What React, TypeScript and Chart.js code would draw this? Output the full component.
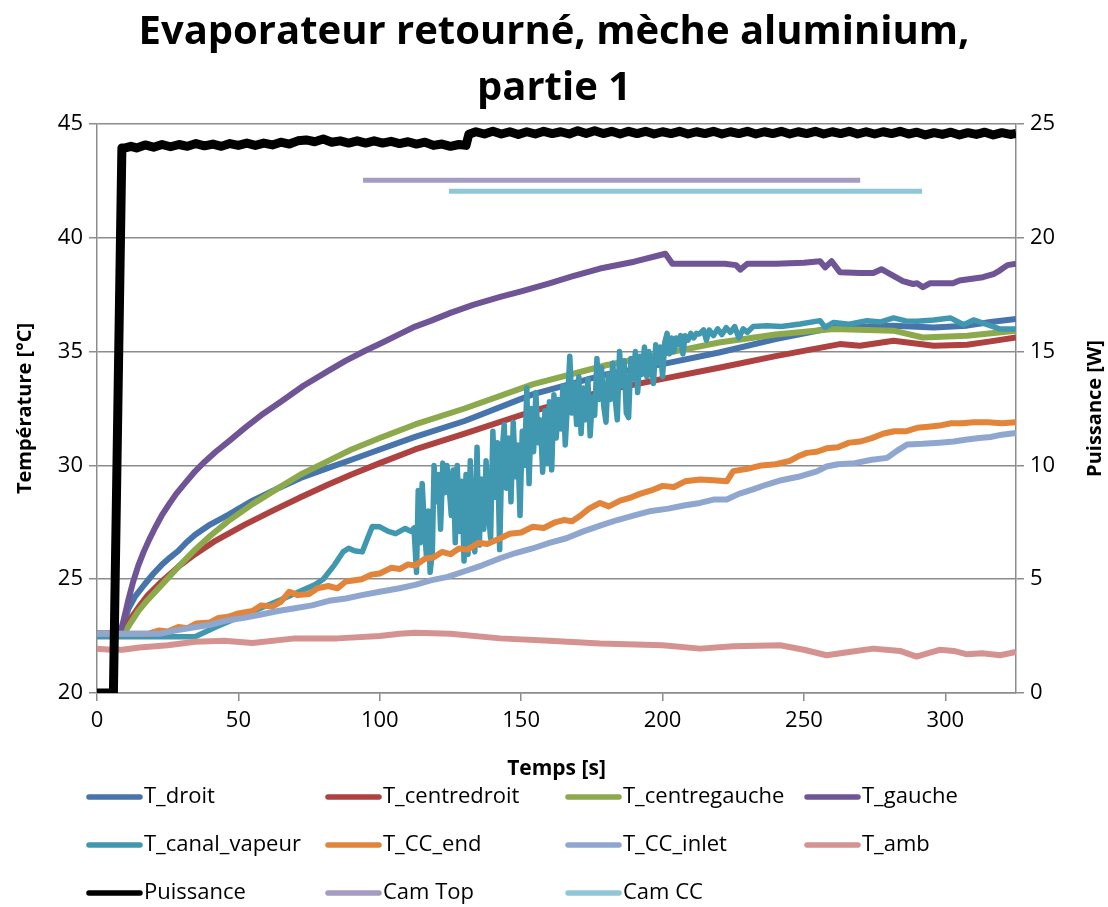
import React, { useEffect, useRef } from "react";
import { Chart, registerables } from "chart.js";

Chart.register(...registerables);

// ---------- text ----------
const TITLE = ["Evaporateur retourné, mèche aluminium,", "partie 1"];
const X_TITLE = "Temps [s]";
const Y_TITLE = "Température [°C]";
const Y1_TITLE = "Puissance [W]";

// ---------- axes ----------
const X_MIN = 0;
const X_MAX = 325;
const X_STEP = 50;
const Y_MIN = 20;
const Y_MAX = 45;
const Y_STEP = 5;
const Y1_MIN = 0;
const Y1_MAX = 25;
const Y1_STEP = 5;

// ---------- data: [time s, value] ----------
const tDroit = [[0,22.6],[8,22.6],[9.5,23.0],[11.1,23.7],[13.5,24.25],[17,24.8],[20,25.25],[22.9,25.63],[25.8,25.95],[28.8,26.25],[31.5,26.6],[34.7,26.95],[40,27.4],[46.4,27.83],[55,28.45],[64.1,29.0],[72,29.45],[81.8,29.89],[90,30.25],[100,30.7],[112.5,31.25],[130,31.95],[154.3,33.13],[180,34.0],[200,34.45],[220,34.96],[240,35.55],[260.5,36.06],[281.7,36.14],[295.9,36.06],[307.7,36.14],[316,36.3],[325,36.43]];

const tCentreDroit = [[0,22.6],[9,22.6],[11,23.1],[14.6,23.75],[18,24.3],[22.9,24.9],[28.8,25.55],[34.7,26.1],[42,26.7],[52.3,27.4],[62,28.0],[72,28.6],[81.8,29.16],[90,29.6],[100,30.1],[112.5,30.7],[130,31.4],[154.3,32.39],[180,33.3],[200,33.8],[220.4,34.3],[240,34.8],[262.7,35.33],[269.8,35.26],[281.7,35.48],[295.9,35.26],[307.7,35.3],[316,35.45],[325,35.62]];

const tCentreGauche = [[0,22.6],[9.5,22.6],[11.5,23.0],[14.6,23.6],[18,24.1],[22.9,24.75],[28.8,25.55],[34.7,26.3],[40,26.9],[46.4,27.55],[55,28.3],[64.1,29.0],[72,29.6],[81.8,30.2],[90,30.7],[100,31.2],[112.5,31.8],[130,32.5],[154.3,33.57],[180,34.4],[200,34.9],[220,35.4],[240,35.75],[260.5,35.99],[281.7,35.92],[292,35.62],[307.7,35.7],[325,35.92]];

const tGauche = [[0,22.6],[8,22.6],[9,23.0],[10,23.5],[11.1,24.1],[12.8,24.9],[14.6,25.6],[16.5,26.2],[18.5,26.75],[20.5,27.25],[22.9,27.8],[25.5,28.3],[28,28.75],[31,29.2],[34.7,29.74],[38,30.15],[42,30.6],[47,31.1],[52.3,31.65],[58,32.2],[65,32.8],[73,33.5],[81.8,34.15],[88,34.6],[95,35.05],[101,35.4],[107,35.77],[112.5,36.1],[118,36.35],[125,36.7],[133,37.05],[142.6,37.4],[150,37.65],[160,38.0],[168,38.3],[177.9,38.65],[190,38.95],[201,39.3],[203.5,38.86],[213,38.86],[222,38.86],[226,38.8],[227.5,38.6],[230,38.86],[240,38.86],[250,38.9],[255.7,38.97],[257.5,38.7],[259.8,38.97],[262.7,38.49],[270,38.45],[274.5,38.45],[277.4,38.62],[281.5,38.34],[285,38.1],[288.6,37.97],[290,38.0],[292.1,37.83],[294.5,38.0],[302.7,38.0],[305,38.12],[313.3,38.27],[317,38.4],[319.2,38.56],[322,38.8],[325,38.86]];

const tCanalVapeur = [[0,22.47],[34.7,22.47],[42,22.9],[52.3,23.44],[65,24.1],[77,24.75],[80,25.0],[84,25.63],[87,26.2],[89,26.36],[91,26.25],[93.8,26.2],[96,26.9],[97.4,27.32],[100,27.3],[103,27.1],[105.6,27.0],[109,27.23],[111,27.1],[112.1,27.25],[113.0,25.3],[113.6,28.9],[114.3,26.6],[115.0,29.2],[115.7,27.5],[116.5,26.0],[117.2,28.0],[117.8,25.3],[118.6,26.2],[119.2,30.0],[120.0,28.4],[120.8,29.6],[121.5,27.2],[122.3,30.1],[123.0,28.8],[123.8,30.0],[124.5,29.1],[125.3,27.8],[126.0,29.8],[126.7,26.6],[127.4,30.0],[128.2,27.1],[129.0,29.3],[129.8,25.8],[130.5,29.6],[131.2,26.1],[132.0,30.2],[132.8,27.0],[133.6,26.2],[134.4,30.8],[135.2,26.5],[136.0,29.4],[136.8,27.2],[137.6,30.2],[138.4,28.0],[139.2,26.8],[140.0,31.5],[140.8,28.6],[141.6,31.0],[142.4,26.3],[143.2,30.5],[144.0,31.8],[144.8,29.0],[145.6,31.2],[146.4,28.4],[147.2,31.9],[148.0,29.5],[148.8,30.9],[149.6,27.8],[150.4,31.5],[151.2,30.0],[152.0,33.4],[152.8,29.2],[153.6,32.5],[154.4,30.6],[155.2,33.2],[156.0,31.0],[156.8,32.0],[157.6,29.7],[158.4,32.4],[159.2,30.1],[160.0,32.8],[160.8,29.8],[161.6,33.1],[162.4,31.2],[163.2,32.9],[164.0,31.6],[164.8,33.5],[165.6,30.9],[166.4,32.8],[167.2,34.8],[168.0,32.3],[168.8,33.6],[169.6,31.8],[170.4,33.9],[171.2,31.4],[172.0,33.4],[172.8,32.0],[173.6,33.8],[174.4,31.3],[175.2,33.0],[176.0,32.2],[176.8,34.7],[177.6,32.9],[178.4,34.3],[179.2,32.6],[180.0,31.9],[180.8,34.0],[181.6,32.9],[182.4,34.5],[183.2,33.0],[184.0,32.0],[184.8,35.0],[185.6,33.5],[186.4,34.6],[187.2,32.3],[188.0,32.1],[188.8,34.7],[189.6,33.8],[190.4,35.0],[191.2,33.2],[192.0,34.8],[192.8,34.0],[193.6,35.2],[194.4,33.9],[195.2,35.0],[196.0,34.2],[196.8,33.6],[197.6,35.3],[198.4,34.5],[199.2,35.2],[200.0,33.9],[200.8,35.4],[201.6,35.8],[202.4,34.9],[203.2,35.6],[204.0,35.0],[204.8,35.6],[205.6,35.3],[206.4,35.7],[207.2,34.9],[208.0,35.7],[209.0,35.5],[210.0,35.8],[211.0,35.6],[212.0,35.8],[213.0,35.77],[214.5,35.95],[215.5,35.5],[216.5,35.95],[218,35.7],[219.5,36.0],[221,35.75],[222.5,36.05],[224,35.85],[225.5,36.1],[227,35.6],[228.5,36.0],[230,35.85],[232,36.1],[236.9,36.14],[242,36.1],[248.7,36.21],[255.7,36.36],[257.5,36.06],[260.5,36.28],[266,36.2],[272.3,36.36],[277,36.3],[281.7,36.48],[286,36.35],[290,36.33],[295.9,36.39],[301.8,36.48],[306.5,36.18],[310,36.39],[315.9,36.14],[319.4,35.99],[325,35.99]];

const tCCEnd = [[0,22.6],[18,22.6],[22,22.75],[25,22.7],[28.8,22.9],[32,22.85],[35,23.05],[40,23.1],[43,23.3],[46.4,23.35],[50,23.5],[55,23.6],[58,23.85],[62,23.8],[65,24.0],[68,24.45],[71,24.3],[75,24.35],[78,24.6],[81.8,24.7],[85,24.6],[88,24.9],[93.6,25.0],[97,25.2],[100,25.25],[104,25.5],[107.2,25.45],[110,25.65],[112.5,25.6],[116,25.9],[119,25.95],[122,26.2],[125,26.1],[128,26.35],[131,26.3],[135,26.6],[138,26.55],[142.6,26.8],[146,27.0],[150,27.05],[154,27.3],[158,27.25],[162,27.5],[165,27.6],[168,27.55],[171,27.8],[174,28.1],[177.9,28.35],[181,28.2],[185,28.45],[189,28.6],[192,28.75],[196,28.9],[200,29.1],[204,29.05],[208,29.3],[213.3,29.38],[218,29.35],[222.7,29.3],[225,29.75],[230,29.85],[235,30.0],[240,30.05],[245,30.2],[248,30.4],[251,30.55],[254.6,30.6],[258,30.75],[262,30.8],[266,31.0],[270,31.05],[274,31.2],[278.2,31.4],[282,31.5],[286,31.5],[290,31.65],[294,31.7],[298,31.75],[302,31.85],[306,31.85],[310,31.9],[315,31.9],[320,31.85],[325,31.9]];

const tCCInlet = [[0,22.6],[22,22.6],[28,22.75],[35,22.9],[40,23.0],[46.4,23.2],[52,23.3],[58,23.45],[64,23.6],[70,23.72],[76,23.85],[82,24.05],[88,24.15],[93.6,24.3],[100,24.45],[107,24.6],[112.5,24.75],[118,24.95],[124,25.1],[130,25.35],[136,25.6],[142.6,25.92],[148,26.15],[154,26.35],[160,26.6],[166,26.8],[172,27.1],[177.9,27.35],[184,27.6],[190,27.8],[196,28.0],[202,28.1],[208,28.25],[213.3,28.35],[218,28.5],[222.7,28.5],[227,28.75],[232,28.95],[236.9,29.16],[242,29.35],[248,29.5],[254.6,29.74],[258,29.95],[262,30.05],[268,30.1],[274,30.25],[279.4,30.33],[283,30.65],[286.5,30.92],[292,30.95],[298,31.0],[303,31.05],[307.7,31.14],[312,31.2],[316,31.25],[320,31.35],[325,31.43]];

const tAmb = [[0,21.95],[5,21.9],[9,21.9],[15,22.0],[25,22.1],[34.7,22.25],[45,22.3],[55,22.2],[70,22.4],[85,22.4],[100,22.5],[107,22.6],[112.5,22.65],[125,22.6],[142.6,22.4],[160,22.3],[177.9,22.17],[200,22.1],[213.3,21.95],[225,22.05],[241.6,22.1],[250,21.9],[258,21.66],[266,21.8],[274.5,21.95],[284,21.85],[289.8,21.6],[294,21.75],[298,21.9],[303,21.85],[307.7,21.7],[313,21.75],[319.4,21.66],[325,21.8]];

// Puissance in W (right axis)
const puissance = [[0,0],[5.8,0],[8.8,23.95],[10,23.95],[12,24.02],[14,23.95],[17,24.08],[20,23.98],[23,24.1],[26,24.0],[29,24.1],[32,24.02],[35,24.14],[38,24.04],[41,24.12],[44,24.02],[47,24.14],[50,24.06],[53,24.16],[56,24.06],[59,24.16],[62,24.08],[65,24.2],[68,24.12],[71,24.26],[74,24.3],[77,24.22],[80,24.34],[83,24.2],[86,24.26],[89,24.16],[92,24.26],[95,24.16],[98,24.26],[101,24.16],[104,24.24],[107,24.14],[110,24.22],[113,24.12],[116,24.2],[119,24.06],[122,24.12],[125,24.02],[128,24.1],[130.5,24.06],[131.5,24.55],[134,24.66],[137,24.56],[140,24.68],[143,24.56],[146,24.66],[149,24.54],[152,24.66],[155,24.56],[158,24.68],[161,24.58],[164,24.66],[167,24.56],[170,24.7],[173,24.58],[176,24.7],[179,24.58],[182,24.68],[185,24.56],[188,24.68],[191,24.58],[194,24.68],[197,24.56],[200,24.66],[203,24.58],[206,24.68],[209,24.56],[212,24.66],[215,24.58],[218,24.68],[221,24.56],[224,24.66],[227,24.58],[230,24.68],[233,24.56],[236,24.66],[239,24.58],[242,24.68],[245,24.56],[248,24.66],[251,24.58],[254,24.68],[257,24.56],[260,24.66],[263,24.58],[266,24.68],[269,24.56],[272,24.66],[275,24.56],[278,24.66],[281,24.58],[284,24.68],[287,24.56],[290,24.64],[293,24.52],[296,24.62],[299,24.54],[302,24.64],[305,24.52],[308,24.62],[311,24.54],[314,24.64],[317,24.52],[320,24.62],[323,24.54],[325,24.58]];

// Camera recording windows (W, right axis)
const camTop = [[94.1,22.53],[269.9,22.53]];
const camCC = [[124.5,22.05],[291.8,22.05]];

// ---------- series styling ----------
const SERIES = [
  { label: "T_droit", data: tDroit, color: "#4674AB", axis: "y", width: 6 },
  { label: "T_centredroit", data: tCentreDroit, color: "#AD4240", axis: "y", width: 6 },
  { label: "T_centregauche", data: tCentreGauche, color: "#8CA94B", axis: "y", width: 6 },
  { label: "T_gauche", data: tGauche, color: "#6F5596", axis: "y", width: 6 },
  { label: "T_canal_vapeur", data: tCanalVapeur, color: "#3F98AF", axis: "y", width: 5.5 },
  { label: "T_CC_end", data: tCCEnd, color: "#E2843A", axis: "y", width: 6 },
  { label: "T_CC_inlet", data: tCCInlet, color: "#8FA7CF", axis: "y", width: 6 },
  { label: "T_amb", data: tAmb, color: "#D49290", axis: "y", width: 6 },
  { label: "Puissance", data: puissance, color: "#000000", axis: "y1", width: 9 },
  { label: "Cam Top", data: camTop, color: "#A69BC3", axis: "y1", width: 5 },
  { label: "Cam CC", data: camCC, color: "#8FC7D8", axis: "y1", width: 5 },
];

const GRID = "#8C8C8C";
const FONT = '"Open Sans", "DejaVu Sans", sans-serif';
const TITLE_FONT = '"Open Sans", "DejaVu Sans", sans-serif';

const LEGEND_COLS = [87, 326, 566, 805];
const LEGEND_ROWS = [797, 845, 893];

const extrasPlugin = {
  id: "extras",
  afterDraw(chart: any) {
    const ctx = chart.ctx as CanvasRenderingContext2D;
    const area = chart.chartArea;
    // right axis title (reads bottom to top)
    ctx.save();
    ctx.translate(chart.scales.y1.right - 13, (area.top + area.bottom) / 2);
    ctx.rotate(-Math.PI / 2);
    ctx.font = `bold 20px ${FONT}`;
    ctx.fillStyle = "#000";
    ctx.textAlign = "center";
    ctx.textBaseline = "middle";
    ctx.fillText(Y1_TITLE, 0, 0);
    ctx.restore();

    // legend in 4 columns
    ctx.save();
    ctx.font = `22px ${FONT}`;
    ctx.textBaseline = "middle";
    ctx.textAlign = "left";
    SERIES.forEach((s, i) => {
      const cx = LEGEND_COLS[i % 4];
      const cy = LEGEND_ROWS[Math.floor(i / 4)];
      ctx.strokeStyle = s.color;
      ctx.lineWidth = 5.5;
      ctx.lineCap = "round";
      ctx.beginPath();
      ctx.moveTo(cx + 2, cy);
      ctx.lineTo(cx + 53, cy);
      ctx.stroke();
      ctx.fillStyle = "#000";
      ctx.fillText(s.label, cx + 57, cy);
    });
    ctx.restore();
  },
};

export default function App() {
  const ref = useRef<HTMLCanvasElement | null>(null);

  useEffect(() => {
    if (!ref.current) return;
    const n = SERIES.length;
    const chart = new Chart(ref.current, {
      type: "line",
      data: {
        datasets: SERIES.map((s, i) => ({
          label: s.label,
          data: s.data.map(([x, y]) => ({ x, y })),
          borderColor: s.color,
          backgroundColor: s.color,
          borderWidth: s.width,
          pointRadius: 0,
          tension: 0,
          fill: false,
          yAxisID: s.axis,
          order: n - i,
          borderJoinStyle: "round" as const,
          borderCapStyle: "butt" as const,
        })),
      },
      options: {
        animation: false,
        responsive: false,
        maintainAspectRatio: false,
        events: [],
        layout: { padding: { top: 0, bottom: 124, left: 0, right: 0 } },
        plugins: {
          legend: { display: false },
          tooltip: { enabled: false },
          title: {
            display: true,
            text: TITLE,
            color: "#000",
            font: { family: TITLE_FONT, size: 40, weight: "bold", lineHeight: 56 / 40 },
            padding: { top: 5, bottom: 7 },
          },
        },
        scales: {
          x: {
            type: "linear",
            min: X_MIN,
            max: X_MAX,
            ticks: {
              stepSize: X_STEP,
              includeBounds: false,
              color: "#000",
              font: { family: FONT, size: 22 },
              padding: 7,
              maxRotation: 0,
            },
            grid: { drawOnChartArea: false, drawTicks: true, tickLength: 8, color: GRID, lineWidth: 1.5 },
            border: { display: true, color: GRID, width: 1.5 },
            title: {
              display: true,
              text: X_TITLE,
              color: "#000",
              font: { family: FONT, size: 21, weight: "bold" },
              padding: { top: 0, bottom: 1 },
            },
            afterFit: (s: any) => { s.height = 90; },
          },
          y: {
            type: "linear",
            position: "left",
            min: Y_MIN,
            max: Y_MAX,
            ticks: { stepSize: Y_STEP, color: "#000", font: { family: FONT, size: 22 }, padding: 6 },
            grid: { color: GRID, lineWidth: 1.5, tickLength: 8 },
            border: { display: true, color: GRID, width: 1.5 },
            title: {
              display: true,
              text: Y_TITLE,
              color: "#000",
              font: { family: FONT, size: 20, weight: "bold" },
              padding: { top: 13, bottom: 0 },
            },
            afterFit: (s: any) => { s.width = 97; },
          },
          y1: {
            type: "linear",
            position: "right",
            min: Y1_MIN,
            max: Y1_MAX,
            ticks: { stepSize: Y1_STEP, color: "#000", font: { family: FONT, size: 22 }, padding: 6 },
            grid: { drawOnChartArea: false, color: GRID, lineWidth: 1.5, tickLength: 8 },
            border: { display: true, color: GRID, width: 1.5 },
            afterFit: (s: any) => { s.width = 92; },
          },
        },
      },
      plugins: [extrasPlugin],
    } as any);
    return () => chart.destroy();
  }, []);

  return (
    <div style={{ position: "absolute", left: 0, top: 0, width: 1108, height: 907, background: "#fff" }}>
      <canvas ref={ref} width={1108} height={907} style={{ display: "block" }} />
    </div>
  );
}
